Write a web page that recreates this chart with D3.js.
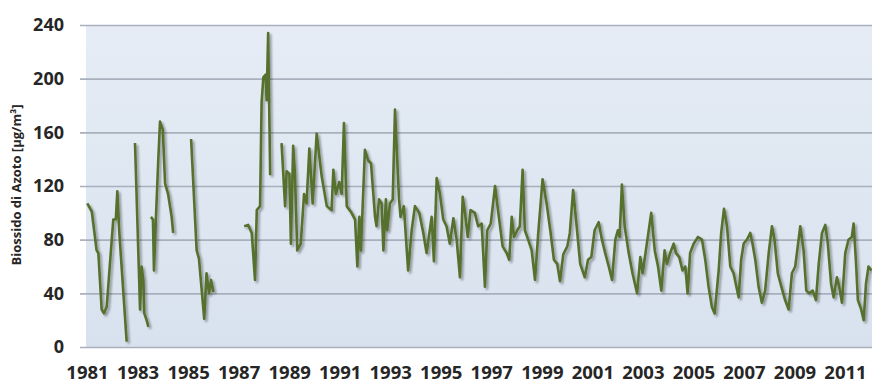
<!DOCTYPE html>
<html>
<head>
<meta charset="utf-8">
<script src="https://cdn.jsdelivr.net/npm/d3@7/dist/d3.min.js"></script>
<style>
  html, body { margin: 0; padding: 0; background: #fff; }
  svg { display: block; }
  .tick text { font-family: "Open Sans", sans-serif; font-weight: 700; fill: #262626; }
</style>
</head>
<body>
<svg id="chart" width="872" height="383"></svg>
<script>
// Monthly NO2 readings (decimal year, value). null = missing months.
const times = [
  1981.01, 1981.19, 1981.38, 1981.45, 1981.58, 1981.67, 1981.78, 1982.04, 1982.14, 1982.20, 1982.28, 1982.57,
  1982.75,
  1982.90, 1983.10, 1983.16, 1983.23, 1983.27, 1983.36, 1983.43,
  1983.48,
  1983.53, 1983.61, 1983.65, 1983.73, 1983.82, 1983.89, 1984.00, 1984.09, 1984.21, 1984.35, 1984.41,
  1984.80,
  1985.12, 1985.34, 1985.43, 1985.64, 1985.73, 1985.83, 1985.91, 1986.00,
  1986.60,
  1987.22, 1987.38, 1987.52, 1987.65, 1987.72, 1987.85, 1987.91, 1987.98, 1988.07, 1988.11, 1988.17, 1988.25,
  1988.50,
  1988.70, 1988.84, 1988.90, 1989.01, 1989.07, 1989.16, 1989.23, 1989.32, 1989.46, 1989.59, 1989.69, 1989.80,
  1989.93, 1990.09, 1990.29, 1990.49, 1990.68, 1990.75, 1990.85, 1990.98, 1991.08, 1991.17, 1991.28, 1991.47,
  1991.61, 1991.70, 1991.78, 1991.84, 1992.00, 1992.13, 1992.24, 1992.40, 1992.46, 1992.56, 1992.66, 1992.73,
  1992.83, 1992.88, 1992.99, 1993.10, 1993.19, 1993.35, 1993.41, 1993.54, 1993.71, 1993.85, 1993.98, 1994.15,
  1994.31, 1994.44, 1994.64, 1994.73, 1994.84, 1994.97, 1995.10, 1995.23, 1995.36, 1995.50, 1995.63, 1995.76,
  1995.87, 1995.96, 1996.07, 1996.18, 1996.35, 1996.48, 1996.62, 1996.75, 1996.84, 1996.98, 1997.15, 1997.28,
  1997.45, 1997.61, 1997.71, 1997.81, 1997.90, 1998.03, 1998.13, 1998.24, 1998.33, 1998.46, 1998.60, 1998.73,
  1998.86, 1999.03, 1999.19, 1999.35, 1999.48, 1999.61, 1999.72, 1999.85, 2000.01, 2000.11, 2000.24, 2000.38,
  2000.52, 2000.70, 2000.83, 2000.96, 2001.09, 2001.25, 2001.38, 2001.51, 2001.65, 2001.78, 2001.91, 2002.01,
  2002.08, 2002.17, 2002.28, 2002.44, 2002.59, 2002.77, 2002.90, 2002.99, 2003.12, 2003.33, 2003.47, 2003.60,
  2003.73, 2003.86, 2003.95, 2004.08, 2004.22, 2004.31, 2004.44, 2004.57, 2004.68, 2004.77, 2004.87, 2005.01,
  2005.18, 2005.34, 2005.47, 2005.60, 2005.73, 2005.84, 2006.00, 2006.10, 2006.21, 2006.33, 2006.46, 2006.59,
  2006.79, 2006.89, 2006.99, 2007.12, 2007.25, 2007.34, 2007.45, 2007.58, 2007.71, 2007.84, 2007.98, 2008.11,
  2008.21, 2008.34, 2008.48, 2008.63, 2008.77, 2008.90, 2009.03, 2009.23, 2009.36, 2009.47, 2009.58, 2009.72,
  2009.85, 2009.96, 2010.09, 2010.22, 2010.32, 2010.45, 2010.55, 2010.68, 2010.77, 2010.88, 2011.01, 2011.14,
  2011.27, 2011.34, 2011.43, 2011.51, 2011.64, 2011.74, 2011.83, 2011.93, 2012.04
];
const no2 = [
  107, 101, 72, 70, 28, 25, 30, 95, 95, 116, 85, 4,
  null,
  152, 28, 60, 50, 25, 20, 15,
  null,
  97, 95, 57, 97, 139, 168, 162, 122, 114, 97, 85,
  null,
  155, 72, 66, 21, 55, 40, 50, 41,
  null,
  90, 91, 85, 50, 102, 105, 182, 201, 203, 184, 234, 128,
  null,
  152, 105, 131, 129, 77, 150, 129, 72, 77, 114, 107, 148,
  107, 159, 127, 105, 102, 132, 114, 123, 114, 167, 105, 100,
  95, 60, 97, 72, 147, 139, 137, 97, 90, 110, 107, 72,
  110, 87, 107, 110, 177, 110, 97, 105, 57, 87, 105, 100,
  85, 70, 97, 64, 126, 114, 95, 90, 77, 96, 80, 52,
  112, 100, 82, 102, 100, 90, 92, 45, 87, 92, 120, 100,
  75, 70, 65, 97, 82, 87, 90, 132, 87, 80, 72, 50,
  85, 125, 107, 85, 65, 62, 49, 69, 75, 85, 117, 90,
  62, 52, 65, 67, 87, 93, 80, 70, 60, 50, 80, 87,
  82, 121, 90, 70, 55, 40, 67, 55, 72, 100, 72, 60,
  42, 72, 62, 70, 77, 70, 67, 57, 60, 40, 70, 77,
  82, 80, 65, 45, 30, 25, 57, 85, 103, 90, 60, 55,
  37, 65, 77, 80, 85, 77, 65, 45, 33, 42, 70, 90,
  80, 55, 45, 35, 28, 55, 60, 90, 72, 42, 40, 42,
  35, 62, 85, 91, 77, 47, 37, 52, 45, 33, 70, 80,
  82, 92, 65, 35, 28, 20, 47, 60, 57
];
const yTicks = [0, 40, 80, 120, 160, 200, 240];
const xTickYears = [1981, 1983, 1985, 1987, 1989, 1991, 1993, 1995, 1997, 1999, 2001, 2003, 2005, 2007, 2009, 2011];
const yTitle = "Biossido di Azoto [µg/m³]";

const data = times.map((t, i) => ({ t: t, v: no2[i] }));

const svg = d3.select('#chart');
const plot = { left: 86, top: 25, right: 880, bottom: 347 };

const x = d3.scaleLinear().domain([1981, 2011]).range([87, 845]);
const y = d3.scaleLinear().domain([0, 240]).range([plot.bottom, plot.top]);

const defs = svg.append('defs');
const grad = defs.append('linearGradient')
  .attr('id', 'bg').attr('x1', 0).attr('y1', 0).attr('x2', 0).attr('y2', 1);
grad.append('stop').attr('offset', '0%').attr('stop-color', '#e5ecf5');
grad.append('stop').attr('offset', '100%').attr('stop-color', '#d8e2ee');

const shadow = defs.append('filter').attr('id', 'shadow')
  .attr('x', '-5%').attr('y', '-5%').attr('width', '110%').attr('height', '110%');
shadow.append('feDropShadow')
  .attr('dx', 2).attr('dy', 2).attr('stdDeviation', 1.3)
  .attr('flood-color', '#000').attr('flood-opacity', 0.35);

svg.append('rect')
  .attr('x', plot.left).attr('y', plot.top)
  .attr('width', plot.right - plot.left).attr('height', plot.bottom - plot.top)
  .attr('fill', 'url(#bg)');

// gridlines with little stubs left of the plot
svg.append('g')
  .attr('transform', `translate(${plot.left},0)`)
  .call(d3.axisLeft(y).tickValues(yTicks).tickSize(-(plot.right - plot.left)).tickPadding(22).tickFormat(d3.format('d')))
  .call(g => g.select('.domain').remove())
  .call(g => g.selectAll('.tick line')
    .attr('x1', -6)
    .attr('stroke', '#a7b0bc').attr('stroke-width', 1.6))
  .call(g => g.selectAll('.tick text').attr('font-size', 18));

svg.append('g')
  .attr('transform', `translate(0,${plot.bottom})`)
  .call(d3.axisBottom(x).tickValues(xTickYears).tickSize(0).tickPadding(19).tickFormat(d3.format('d')))
  .call(g => g.select('.domain').remove())
  .call(g => g.selectAll('.tick text').attr('font-size', 18.5));

svg.append('text')
  .attr('transform', 'translate(21,185) rotate(-90)')
  .attr('text-anchor', 'middle')
  .attr('font-family', '"Open Sans", sans-serif')
  .attr('font-weight', 700)
  .attr('font-size', 13)
  .attr('fill', '#262626')
  .text(yTitle);

const line = d3.line()
  .defined(d => d.v !== null)
  .x(d => x(d.t))
  .y(d => y(d.v));

svg.append('path')
  .datum(data)
  .attr('fill', 'none')
  .attr('stroke', '#56702e')
  .attr('stroke-width', 2.6)
  .attr('stroke-linejoin', 'round')
  .attr('filter', 'url(#shadow)')
  .attr('d', line);
</script>
</body>
</html>
